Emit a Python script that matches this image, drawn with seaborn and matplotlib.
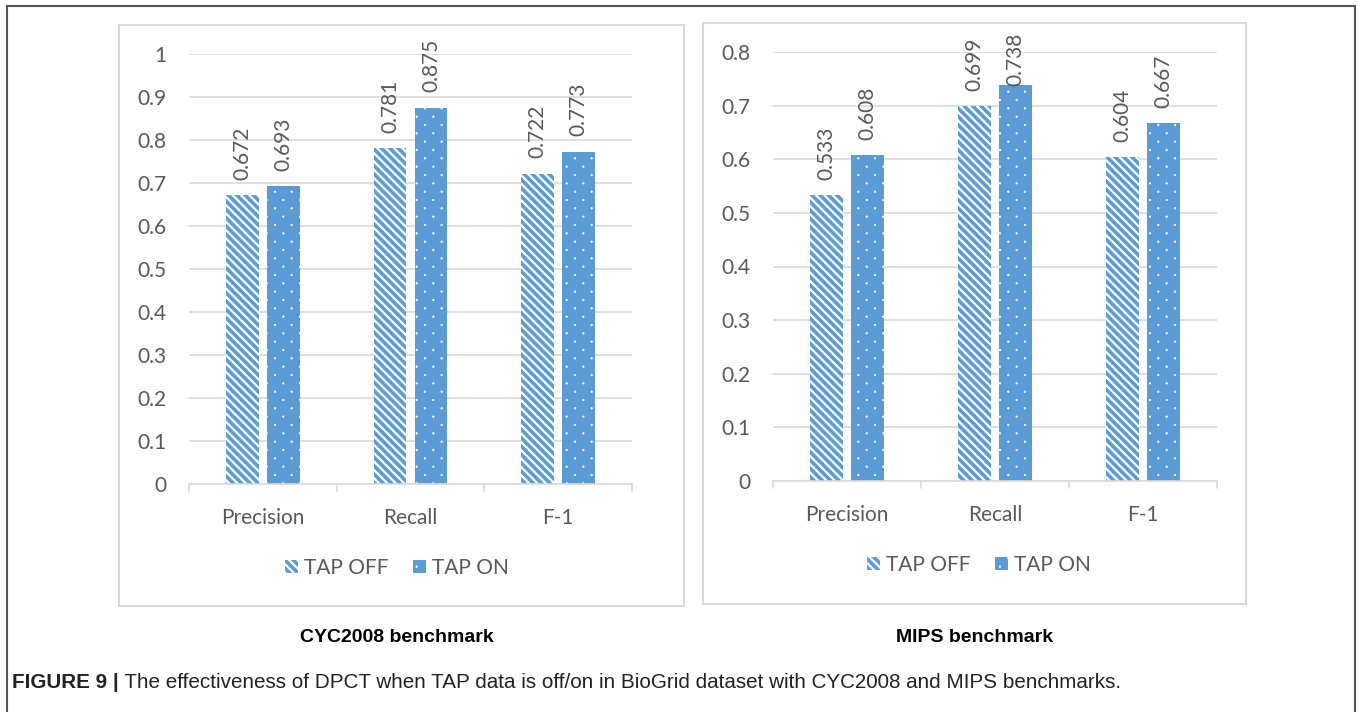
import warnings
warnings.filterwarnings("ignore")
import matplotlib
matplotlib.use("Agg")
import matplotlib.pyplot as plt
import matplotlib.hatch as mhatch
from matplotlib.path import Path
from matplotlib.patches import Rectangle, Patch
from matplotlib.lines import Line2D
import seaborn as sns
import pandas as pd
import numpy as np

# ---- data ----
metrics = ["Precision", "Recall", "F-1"]
series = ["TAP OFF", "TAP ON"]
cyc_off = [0.672, 0.781, 0.722]
cyc_on = [0.693, 0.875, 0.773]
mips_off = [0.533, 0.699, 0.604]
mips_on = [0.608, 0.738, 0.667]
cyc_ticks = [0, 0.1, 0.2, 0.3, 0.4, 0.5, 0.6, 0.7, 0.8, 0.9, 1]
mips_ticks = [0, 0.1, 0.2, 0.3, 0.4, 0.5, 0.6, 0.7, 0.8]
panel_titles = ["CYC2008 benchmark", "MIPS benchmark"]
caption_bold = "FIGURE 9 |"
caption_rest = " The effectiveness of DPCT when TAP data is off/on in BioGrid dataset with CYC2008 and MIPS benchmarks."

BLUE = "#5B9BD5"
GRID = "#D9D9D9"
TXT = "#595959"
FONT = "Lato"
FS = 15


# custom dot hatch ('d'): staggered dot lattice (Excel small-dot pattern)
class DotLattice(mhatch.HatchPatternBase):
    filled = True

    def __init__(self, hatch, density):
        self.ncol = hatch.count("d") * int(density)
        self.nrow = 2 * self.ncol
        circ = Path.unit_circle()
        self.sv = circ.vertices
        self.sc = circ.codes
        if self.ncol == 0:
            self.num_vertices = 0
            return
        n_even = self.nrow // 2 + 1
        n_odd = self.nrow // 2
        self.num_shapes = n_even * (self.ncol + 1) + n_odd * self.ncol
        self.num_vertices = self.num_shapes * len(self.sv)

    def set_vertices_and_codes(self, vertices, codes):
        r = 0.0075
        sv = self.sv * r
        vparts, cparts = [], []
        for row in range(self.nrow + 1):
            if row % 2 == 0:
                cols = np.arange(self.ncol + 1) / self.ncol
            else:
                cols = (np.arange(self.ncol) + 0.5) / self.ncol
            y = row / self.nrow
            for x in cols:
                vparts.append(sv + [x, y])
                cparts.append(self.sc)
        np.concatenate(vparts, out=vertices)
        np.concatenate(cparts, out=codes)


# custom wide downward-diagonal hatch ('s'): thick filled bands
class WideDiagonal(mhatch.HatchPatternBase):
    filled = True

    def __init__(self, hatch, density):
        self.n = hatch.count("s") * int(density)
        if self.n == 0:
            self.num_vertices = 0
            return
        self.ks = list(range(-1, 2 * self.n + 2))
        self.num_vertices = len(self.ks) * 5

    def set_vertices_and_codes(self, vertices, codes):
        n = self.n
        hv = 0.25 / n  # half band thickness (vertical units) -> ~50% fill
        x0, x1 = -0.1, 1.1
        vparts, cparts = [], []
        for k in self.ks:
            c = k / n
            vparts.append(np.array([[x0, -x0 + c - hv], [x1, -x1 + c - hv],
                                    [x1, -x1 + c + hv], [x0, -x0 + c + hv],
                                    [x0, -x0 + c - hv]]))
            cparts.append(np.array([Path.MOVETO, Path.LINETO, Path.LINETO,
                                    Path.LINETO, Path.CLOSEPOLY], dtype=Path.code_type))
        np.concatenate(vparts, out=vertices)
        np.concatenate(cparts, out=codes)


mhatch._hatch_types.append(DotLattice)
mhatch._hatch_types.append(WideDiagonal)

sns.set_theme(style="white")
plt.rcParams["font.family"] = [FONT, "DejaVu Sans"]
plt.rcParams["hatch.linewidth"] = 0.5

W, H = 1358, 712
fig = plt.figure(figsize=(W / 100, H / 100), dpi=100)

OFF_HATCH = "ss"
ON_HATCH = "d"


def fx(px):
    return px / W


def fy(py):
    return 1 - py / H


def make_df(off, on):
    return pd.DataFrame({
        "metric": metrics * 2,
        "series": [series[0]] * 3 + [series[1]] * 3,
        "value": list(off) + list(on),
    })


def style_off(p):
    p.set_facecolor("white")
    p.set_edgecolor(BLUE)
    p.set_linewidth(0)
    p.set_hatch(OFF_HATCH)


def style_on(p):
    p.set_facecolor(BLUE)
    p.set_edgecolor("white")
    p.set_linewidth(0)
    p.set_hatch(ON_HATCH)


labels = []


def draw_panel(rect_px, off, on, ticks, ymax, legend_center, top_limit):
    l, t, r, b = rect_px
    ax = fig.add_axes([fx(l), fy(b), fx(r - l), (b - t) / H])
    df = make_df(off, on)
    sns.barplot(data=df, x="metric", y="value", hue="series", order=metrics,
                hue_order=series, palette=[BLUE, BLUE], width=0.554, gap=0.2,
                ax=ax, legend=False, errorbar=None)
    for p in ax.containers[0]:
        style_off(p)
    for p in ax.containers[1]:
        style_on(p)
    ax.set_ylim(0, ymax)
    ax.set_xlim(-0.5, 2.5)
    ax.set_yticks(ticks)
    ax.set_yticklabels([f"{v:g}" for v in ticks], color=TXT, fontsize=FS)
    ax.set_xticks(range(3))
    ax.set_xticklabels(metrics, color=TXT, fontsize=FS)
    ax.tick_params(axis="y", length=0, pad=16)
    ax.tick_params(axis="x", length=0, pad=17)
    ax.set_xlabel("")
    ax.set_ylabel("")
    for s in ["top", "right", "left"]:
        ax.spines[s].set_visible(False)
    ax.spines["bottom"].set_color(GRID)
    ax.spines["bottom"].set_linewidth(1.2)
    ax.yaxis.grid(True, color=GRID, linewidth=1.2)
    ax.set_axisbelow(True)
    # category boundary tick marks
    for xb in [-0.5, 0.5, 1.5, 2.5]:
        ax.plot([xb, xb], [0, -0.016 * ymax], color=GRID, lw=1.2, clip_on=False)
    # data labels
    for cont in ax.containers:
        for p in cont:
            h = p.get_height()
            ann = ax.annotate(f"{h:.3f}", (p.get_x() + p.get_width() / 2, h),
                              xytext=(0, 11), textcoords="offset points",
                              rotation=90, ha="center", va="bottom",
                              color=TXT, fontsize=FS)
            labels.append((ann, top_limit))
    # legend
    h_off = Patch(facecolor="white", edgecolor=BLUE, linewidth=0, hatch=OFF_HATCH)
    h_on = Patch(facecolor=BLUE, edgecolor="white", linewidth=0, hatch=ON_HATCH)
    fig.legend([h_off, h_on], series, loc="center",
               bbox_to_anchor=(fx(legend_center[0]), fy(legend_center[1])),
               ncol=2, frameon=False, fontsize=FS, labelcolor=TXT,
               handlelength=0.6, handleheight=0.6, handletextpad=0.3,
               columnspacing=1.2)
    return ax


draw_panel((189, 54, 632, 484), cyc_off, cyc_on, cyc_ticks, 1.0, (397, 568), 33)
draw_panel((773, 52, 1217, 481), mips_off, mips_on, mips_ticks, 0.8, (979, 565), 33)

# keep data labels inside the chart area (Excel behaviour)
fig.canvas.draw()
rend = fig.canvas.get_renderer()
for ann, lim in labels:
    bb = ann.get_window_extent(rend)
    top_px = H - lim
    if bb.y1 > top_px:
        shift = (bb.y1 - top_px) * 72 / 100
        ann.xyann = (0, 11 - shift)

# chart boxes
for (x0, y0, x1, y1) in [(119, 25, 684, 606), (703, 23, 1246, 604)]:
    fig.add_artist(Rectangle((fx(x0), fy(y1)), fx(x1 - x0), (y1 - y0) / H,
                             transform=fig.transFigure, fill=False,
                             edgecolor=GRID, linewidth=1.5))

# outer frame
FR = "#555555"
fig.add_artist(Line2D([fx(7), fx(7)], [fy(6), 0], transform=fig.transFigure, color=FR, lw=1.5))
fig.add_artist(Line2D([fx(7), fx(1355)], [fy(6), fy(6)], transform=fig.transFigure, color=FR, lw=1.5))
fig.add_artist(Line2D([fx(1355), fx(1355)], [fy(6), 0], transform=fig.transFigure, color=FR, lw=1.5))

CAPF = ["Liberation Sans", "DejaVu Sans"]
fig.text(fx(397), fy(637), panel_titles[0], ha="center", va="center",
         fontsize=14, fontweight="bold", family=CAPF, color="black")
fig.text(fx(975), fy(637), panel_titles[1], ha="center", va="center",
         fontsize=14, fontweight="bold", family=CAPF, color="black")

t1 = fig.text(fx(12), fy(683), caption_bold, ha="left", va="center",
              fontsize=14.9, fontweight="bold", family=CAPF, color="#222222")
fig.canvas.draw()
bb = t1.get_window_extent()
fig.text(bb.x1 / W, fy(683), caption_rest, ha="left", va="center",
         fontsize=14.9, family=CAPF, color="#222222")

fig.savefig("out.png", dpi=100)
